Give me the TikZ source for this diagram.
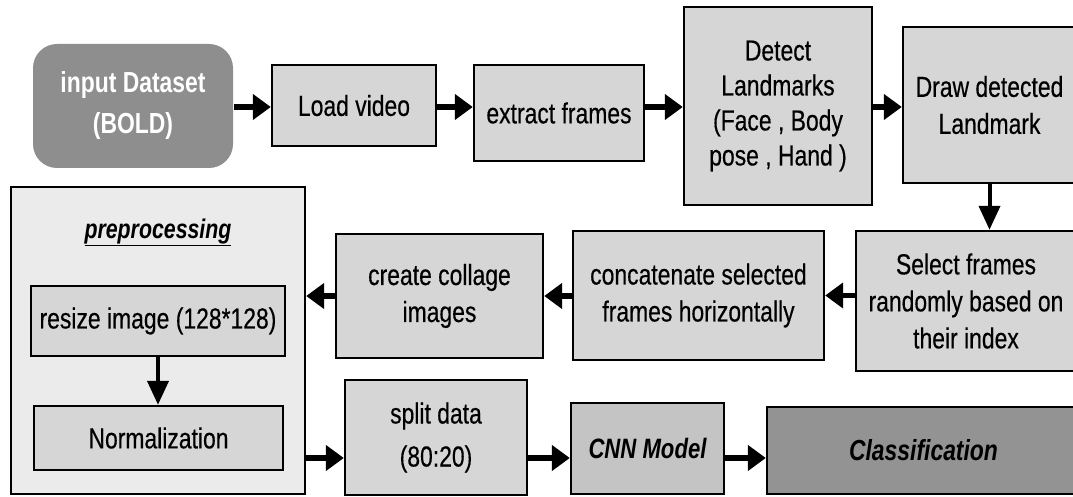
\documentclass[tikz,border=0pt]{standalone}
\usepackage{fontspec}
\setmainfont{Liberation Sans}[FakeStretch=0.79, UprightFeatures={FakeBold=0.4}]
\usetikzlibrary{arrows.meta,calc}
\definecolor{boxfill}{RGB}{214,214,214}
\definecolor{inputfill}{RGB}{142,142,142}
\definecolor{prefill}{RGB}{235,235,235}
\definecolor{cnnfill}{RGB}{196,196,196}
\definecolor{classfill}{RGB}{147,147,147}
\begin{document}
\begin{tikzpicture}[x=1pt,y=-1pt,
  box/.style={draw=black, line width=2.4pt, fill=boxfill, align=center,
    font=\fontsize{29}{37}\selectfont, inner sep=0pt},
  harr/.style={line width=5.5pt, -{Triangle[length=18pt,width=25pt]}},
  varr/.style={line width=4pt, -{Triangle[length=24pt,width=21pt]}}]
\useasboundingbox (0,0) rectangle (1073,497);
\fill[white] (0,0) rectangle (1073,497);
\clip (0,0) rectangle (1073,497);
% top row
\node[box, draw=none, fill=inputfill, rounded corners=24pt, minimum width=200pt, minimum height=124pt,
  text=white, font=\fontsize{29}{41}\selectfont\bfseries] (input) at (133,106) {input Dataset\\(BOLD)};
\node[box, minimum width=164pt, minimum height=81pt] (load) at (354,105.5) {Load video};
\node[box, minimum width=170pt, minimum height=96pt] (extract) at (559,113) {extract frames};
\node[box, minimum width=188pt, minimum height=198pt, font=\fontsize{29}{35}\selectfont] (detect) at (778,106) {Detect\\Landmarks\\(Face , Body\\pose , Hand )};
\node[box, minimum width=173pt, minimum height=156pt] (drawlm) at (989.5,105) {Draw detected\\Landmark};
% middle row
\node[box, minimum width=220pt, minimum height=140pt] (select) at (966,301) {Select frames\\randomly based on\\their index};
\node[box, minimum width=251pt, minimum height=129pt] (concat) at (698.5,295.5) {concatenate selected\\frames horizontally};
\node[box, minimum width=207pt, minimum height=124pt] (collage) at (439.5,296) {create collage\\images};
% preprocessing
\node[box, fill=prefill, minimum width=294pt, minimum height=307pt] (pre) at (158,340.5) {};
\node[font=\fontsize{27}{30}\selectfont\bfseries\itshape, inner sep=0pt, anchor=base] (pretitle) at (158,238) {\underline{preprocessing}};
\node[box, minimum width=254pt, minimum height=70pt] (resize) at (158,321) {resize image (128*128)};
\node[box, minimum width=249pt, minimum height=64pt] (norm) at (158.5,438) {Normalization};
% bottom row
\node[box, minimum width=182pt, minimum height=115pt, font=\fontsize{29}{43}\selectfont] (split) at (436,437.5) {split data\\(80:20)};
\node[box, fill=cnnfill, minimum width=153pt, minimum height=91pt, font=\fontsize{28}{32}\selectfont\bfseries\itshape] (cnn) at (647.5,448.5) {CNN Model};
\node[box, fill=classfill, minimum width=313pt, minimum height=87pt, font=\fontsize{29}{32}\selectfont\bfseries\itshape] (class) at (923.5,450.5) {Classification};
% connectors
\coordinate (trow) at (0,107);
\coordinate (brow) at (0,458);
\draw[harr] (input.east |- trow) -- (load.west |- trow);
\draw[harr] (load.east |- trow) -- (extract.west |- trow);
\draw[harr] (extract.east |- trow) -- (detect.west |- trow);
\draw[harr] (detect.east |- trow) -- (drawlm.west |- trow);
\draw[varr] (drawlm.south) -- (drawlm.south |- select.north);
\draw[harr] (select.west |- concat.east) -- (concat.east);
\draw[harr] (concat.west |- collage.east) -- (collage.east);
\draw[harr] (collage.west) -- (collage.west -| pre.east);
\draw[varr] (resize.south) -- (resize.south |- norm.north);
\draw[harr] (pre.east |- brow) -- (split.west |- brow);
\draw[harr] (split.east |- brow) -- (cnn.west |- brow);
\draw[harr] (cnn.east |- brow) -- (class.west |- brow);
\end{tikzpicture}
\end{document}
